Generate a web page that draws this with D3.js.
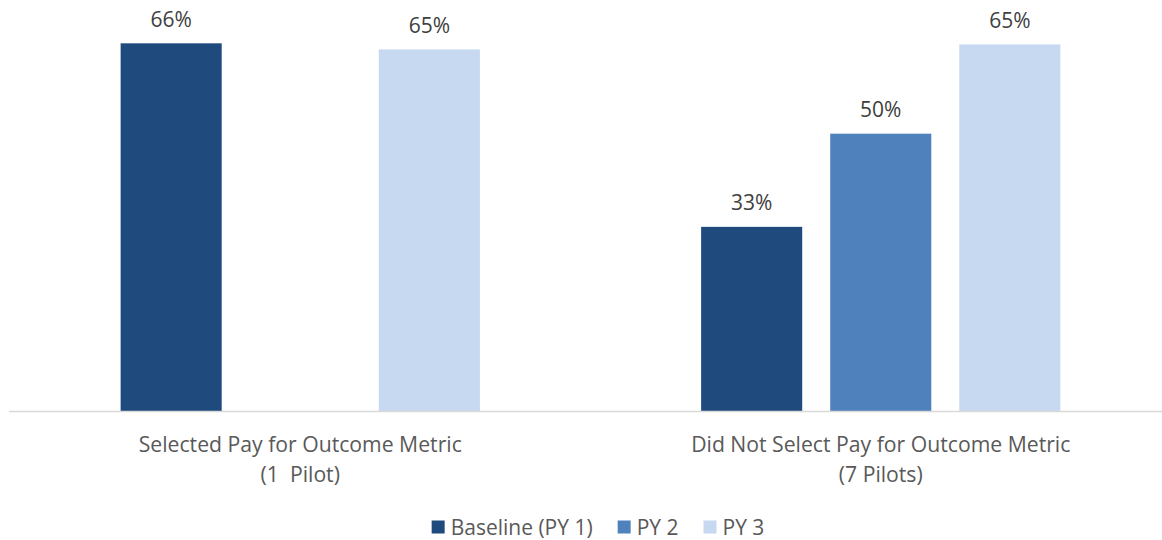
<!DOCTYPE html>
<html>
<head>
<meta charset="utf-8">
<script src="https://cdn.jsdelivr.net/npm/d3@7"></script>
<style>
  html, body { margin: 0; padding: 0; background: #ffffff; }
  svg { display: block; }
  text { font-family: "Open Sans", "DejaVu Sans", sans-serif; }
</style>
</head>
<body>
<svg id="chart" width="1162" height="540"></svg>
<script>
// ---- data ----
const categories = [
  ["Selected Pay for Outcome Metric", "(1  Pilot)"],
  ["Did Not Select Pay for Outcome Metric", "(7 Pilots)"]
];
const seriesNames = ["Baseline (PY 1)", "PY 2", "PY 3"];
const baselineValues = [0.660, 0.331];
const py2Values = [null, 0.498];
const py3Values = [0.649, 0.658];
const baselineLabels = ["66%", "33%"];
const py2Labels = [null, "50%"];
const py3Labels = ["65%", "65%"];
const colors = ["#1F4A7D", "#4F81BD", "#C6D9F1"];

const seriesValues = [baselineValues, py2Values, py3Values];
const seriesLabels = [baselineLabels, py2Labels, py3Labels];

const svg = d3.select("#chart");
const catKeys = categories.map((c, i) => i);

const x0 = d3.scaleBand().domain(catKeys).range([10, 1171]).paddingInner(0).paddingOuter(0);
const x1 = d3.scaleBand().domain(seriesNames).range([0, x0.bandwidth()])
  .paddingInner(0.217).paddingOuter(0.857);
const y = d3.scaleLinear().domain([0, 0.7]).range([411.5, 21]);

// bars
const rows = [];
catKeys.forEach(ci => {
  seriesNames.forEach((s, si) => {
    const v = seriesValues[si][ci];
    if (v != null) rows.push({ ci, s, si, v, label: seriesLabels[si][ci] });
  });
});

const g = svg.append("g");
g.selectAll("rect.bar").data(rows).join("rect")
  .attr("class", "bar")
  .attr("x", d => x0(d.ci) + x1(d.s))
  .attr("width", x1.bandwidth())
  .attr("y", d => y(d.v))
  .attr("height", d => y(0) - y(d.v))
  .attr("fill", d => colors[d.si]);

// data labels
g.selectAll("text.dl").data(rows).join("text")
  .attr("class", "dl")
  .attr("x", d => x0(d.ci) + x1(d.s) + x1.bandwidth() / 2)
  .attr("y", d => y(d.v) - 16.5)
  .attr("text-anchor", "middle")
  .attr("font-size", 21)
  .attr("fill", "#404040")
  .text(d => d.label);

// axis line
const axis = svg.append("g")
  .attr("transform", `translate(0,${y(0)})`)
  .call(d3.axisBottom(x0).tickSize(0).tickSizeOuter(0).tickFormat(""));
axis.select(".domain").attr("stroke", "#D9D9D9").attr("stroke-width", 1.5)
  .attr("d", "M9,0H1171");
axis.selectAll(".tick text").remove();

// category labels
const catText = svg.selectAll("text.cat").data(catKeys).join("text")
  .attr("class", "cat")
  .attr("text-anchor", "middle")
  .attr("font-size", 21.2)
  .attr("fill", "#595959");
catText.each(function(ci) {
  const t = d3.select(this);
  const cx = x0(ci) + x0.bandwidth() / 2;
  categories[ci].forEach((line, li) => {
    t.append("tspan").attr("x", cx).attr("y", 451.5 + li * 30)
      .attr("xml:space", "preserve").style("white-space", "pre").text(line);
  });
});

// legend
const legendItems = seriesNames.map((s, i) => ({ s, i }));
const legend = svg.append("g");
const lg = legend.selectAll("g").data(legendItems).join("g");
lg.append("rect").attr("width", 13).attr("height", 13).attr("y", 520.5)
  .attr("fill", d => colors[d.i]);
lg.append("text").attr("x", 19).attr("y", 534.5)
  .attr("font-size", 21).attr("fill", "#595959").text(d => d.s);
let xpos = 0;
const widths = [];
lg.each(function() { widths.push(this.getBBox().width); });
const gap = 25;
const total = d3.sum(widths) + gap * (widths.length - 1);
xpos = 598 - total / 2;
lg.each(function(d, i) {
  d3.select(this).attr("transform", `translate(${xpos},0)`);
  xpos += widths[i] + gap;
});
</script>
</body>
</html>
